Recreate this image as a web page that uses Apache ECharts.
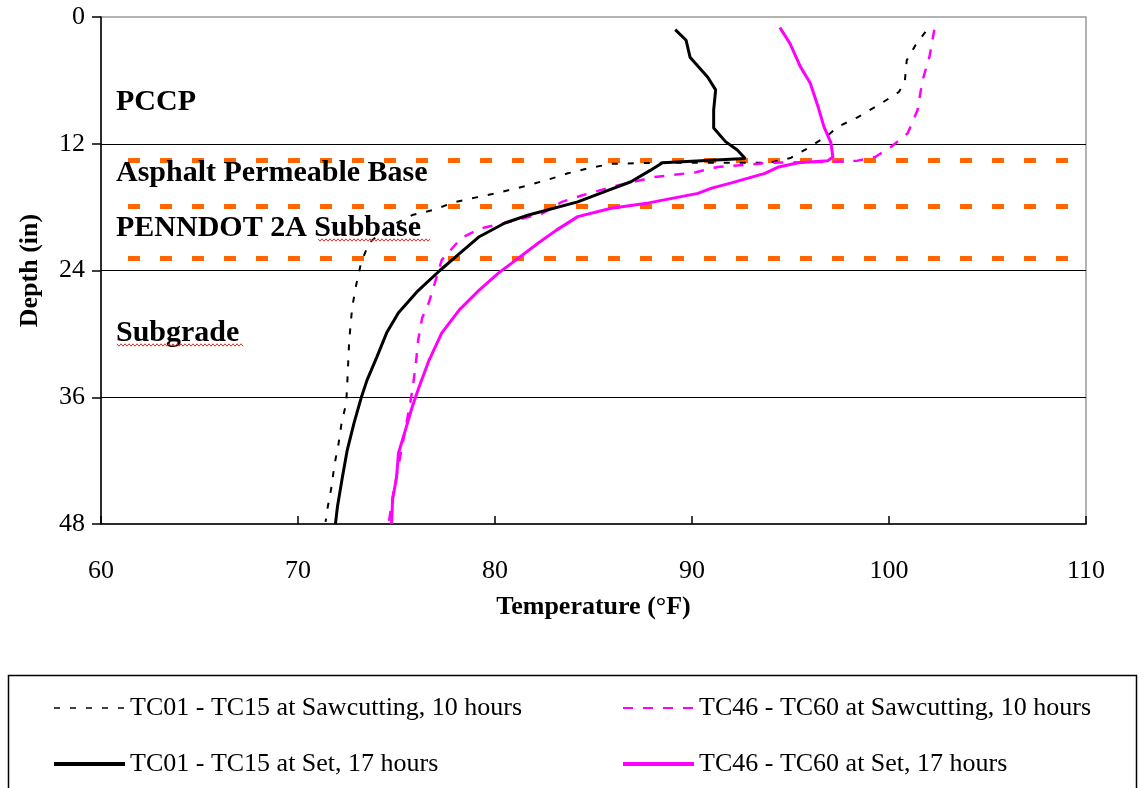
<!DOCTYPE html>
<html>
<head>
<meta charset="utf-8">
<script src="https://cdn.jsdelivr.net/npm/echarts@6/dist/echarts.min.js"></script>
<style>
html,body{margin:0;padding:0;background:#fff;}
#chart{width:1143px;height:788px;}
</style>
</head>
<body>
<div id="chart"></div>
<script>
// ---- data: [temperature (°F), depth (in)] ----
const sawTC01 = [[101.85,1.4],[101.35,2.65],[100.9,4.1],[100.8,6.15],[100.5,7.1],[99.5,8.3],[98.4,9.5],[97.4,10.4],[96.9,11.2],[95.9,12.4],[95.0,13.35],[93.9,13.8],[88.4,13.8],[85.9,13.9],[84.8,14.3],[83.7,14.8],[82.7,15.4],[81.35,16.1],[80.0,16.7],[79.0,17.1],[78.0,17.5],[76.8,18.3],[75.8,18.75],[74.5,20.0],[73.6,21.4],[73.2,23.3],[72.95,25.4],[72.75,27.5],[72.6,30.6],[72.5,34.7],[72.45,36.5],[72.2,38.6],[72.05,40.5],[71.85,42.4],[71.7,44.5],[71.5,46.5],[71.4,47.8]];
const setTC01 = [[89.15,1.2],[89.7,2.2],[89.9,3.8],[90.8,5.7],[91.2,6.9],[91.1,8.8],[91.1,10.5],[91.7,11.8],[92.3,12.6],[92.7,13.4],[88.5,13.8],[87.9,14.5],[86.9,15.6],[85.6,16.5],[84.2,17.5],[81.7,18.75],[80.5,19.5],[79.2,20.8],[78.0,22.7],[77.2,24.0],[76.1,25.9],[75.1,28.0],[74.5,29.9],[74.0,32.2],[73.5,34.4],[73.2,36.1],[72.85,38.4],[72.5,41.0],[72.25,43.6],[72.0,46.4],[71.9,48]];
const sawTC46 = [[102.3,1.2],[102.05,3.8],[101.7,6.0],[101.45,8.8],[100.95,11.0],[100.1,12.3],[99.3,13.25],[98.4,13.6],[97.4,13.7],[94.0,13.8],[91.3,14.2],[90.2,14.7],[88.1,15.15],[85.9,16.1],[84.4,16.9],[83.4,17.5],[82.4,18.6],[80.5,19.5],[79.3,20.0],[78.3,20.9],[77.3,23.0],[76.65,27.0],[76.3,28.5],[76.1,30.6],[76.0,32.5],[75.85,34.7],[75.7,36.5],[75.4,39.5],[75.1,42.5],[74.8,45.5],[74.6,48]];
const setTC46 = [[94.46,1.0],[94.97,2.5],[95.5,4.7],[96.0,6.25],[96.4,8.5],[96.7,10.4],[97.05,11.9],[97.15,13.25],[96.9,13.6],[95.4,13.8],[94.4,14.2],[93.7,14.8],[92.0,15.7],[91.0,16.2],[90.3,16.7],[87.8,17.6],[85.9,18.1],[84.2,18.9],[83.1,20.2],[82.2,21.4],[80.85,23.3],[80.2,24.2],[79.2,25.85],[78.2,27.7],[77.3,29.9],[76.65,32.5],[76.15,35.0],[75.8,36.9],[75.5,38.8],[75.1,41.3],[75.0,43.6],[74.8,45.7],[74.75,48]];

const seriesNames = ['TC01 - TC15 at Sawcutting, 10 hours','TC01 - TC15 at Set, 17 hours','TC46 - TC60 at Sawcutting, 10 hours','TC46 - TC60 at Set, 17 hours'];
const gridDepths = [12, 24, 36];
const layerDepths = [13.6, 17.9, 22.8];
const layerNotes = [['PCCP', 8.1], ['Asphalt Permeable Base', 14.8], ['PENNDOT 2A Subbase', 20.0], ['Subgrade', 29.9]];
const xTicks = {min: 60, max: 110, interval: 10};
const yTicks = {min: 0, max: 48, interval: 12};

const FONT = "'Liberation Serif','Times New Roman',serif";
const chart = echarts.init(document.getElementById('chart'), null, {renderer: 'canvas'});

function wavy(x0, x1, y) {
  const pts = [];
  let up = true;
  for (let x = x0; x <= x1; x += 2) { pts.push([x, up ? y - 1.2 : y + 1.2]); up = !up; }
  return pts;
}

const legendCommon = {orient: 'vertical', top: 690, itemWidth: 71, itemHeight: 12, itemGap: 30,
  itemStyle: {opacity: 0, borderWidth: 0},
  textStyle: {fontFamily: FONT, fontSize: 26, color: '#000'}};

const option = {
  backgroundColor: '#ffffff',
  animation: false,
  grid: {left: 101, right: 57, top: 17, bottom: 264, show: true, borderColor: '#9a9a9a', borderWidth: 1.5, backgroundColor: 'transparent'},
  xAxis: {
    type: 'value', min: xTicks.min, max: xTicks.max, interval: xTicks.interval,
    name: 'Temperature (°F)', nameLocation: 'middle', nameGap: 70,
    nameTextStyle: {fontFamily: FONT, fontSize: 26, fontWeight: 'bold', color: '#000'},
    axisLine: {show: true, onZero: false, lineStyle: {color: '#000', width: 1.5}},
    axisTick: {show: true, inside: true, length: 8, lineStyle: {color: '#000', width: 1.5}},
    axisLabel: {fontFamily: FONT, fontSize: 26, color: '#000', margin: 34},
    splitLine: {show: false}
  },
  yAxis: {
    type: 'value', inverse: true, min: yTicks.min, max: yTicks.max, interval: yTicks.interval,
    name: 'Depth (in)', nameLocation: 'middle', nameGap: 58, nameRotate: 90,
    nameTextStyle: {fontFamily: FONT, fontSize: 26, fontWeight: 'bold', color: '#000'},
    axisLine: {show: true, onZero: false, lineStyle: {color: '#000', width: 1.5}},
    axisTick: {show: true, inside: false, length: 9, lineStyle: {color: '#000', width: 1.5}},
    axisLabel: {fontFamily: FONT, fontSize: 26, color: '#000', margin: 16},
    splitLine: {show: false}
  },
  legend: [
    Object.assign({data: [
      {name: seriesNames[0], lineStyle: {width: 1.5}},
      {name: seriesNames[1], lineStyle: {width: 4}}], left: 47}, legendCommon),
    Object.assign({data: [
      {name: seriesNames[2], lineStyle: {width: 2}},
      {name: seriesNames[3], lineStyle: {width: 4}}], left: 616}, legendCommon)
  ],
  graphic: [
    {type: 'rect', shape: {x: 8.5, y: 675.5, width: 1128, height: 140}, style: {fill: 'none', stroke: '#000', lineWidth: 1.5}, z: 100},
    {type: 'polyline', shape: {points: wavy(318, 430, 240)}, style: {stroke: '#e03030', lineWidth: 1, fill: 'none'}, z: 100},
    {type: 'polyline', shape: {points: wavy(117, 243, 345)}, style: {stroke: '#e03030', lineWidth: 1, fill: 'none'}, z: 100}
  ],
  series: [
    {name: seriesNames[0], type: 'line', data: sawTC01, symbol: 'none', smooth: false,
     lineStyle: {color: '#000', width: 2, type: [6, 10]}, itemStyle: {color: '#000'}, z: 5},
    {name: seriesNames[1], type: 'line', data: setTC01, symbol: 'none',
     lineStyle: {color: '#000', width: 3}, itemStyle: {color: '#000'}, z: 6},
    {name: seriesNames[2], type: 'line', data: sawTC46, symbol: 'none',
     lineStyle: {color: '#ff00ff', width: 2.5, type: [10, 10]}, itemStyle: {color: '#ff00ff'}, z: 5},
    {name: seriesNames[3], type: 'line', data: setTC46, symbol: 'none',
     lineStyle: {color: '#ff00ff', width: 3}, itemStyle: {color: '#ff00ff'}, z: 6},
    {name: 'grid', type: 'line', data: [], symbol: 'none', silent: true, z: 2,
     markLine: {silent: true, symbol: 'none', label: {show: false},
       lineStyle: {color: '#000', width: 1.2, type: 'solid'},
       data: gridDepths.map(d => ({yAxis: d}))}},
    {name: 'layers', type: 'line', data: [], symbol: 'none', silent: true, z: 3,
     markLine: {silent: true, symbol: 'none', label: {show: false},
       lineStyle: {color: '#ff6600', width: 5, type: [12, 20]},
       data: layerDepths.map(d => [{coord: [61.37, d]}, {coord: [110, d]}])}},
    {name: 'notes', type: 'scatter', symbolSize: 0, silent: true, z: 10,
     itemStyle: {opacity: 1},
     data: layerNotes.map(n => ({name: n[0], value: [60.76, n[1]]})),
     label: {show: true, position: 'right', distance: 0, formatter: p => p.name,
       fontFamily: FONT, fontSize: 30, fontWeight: 'bold', color: '#000', opacity: 1}}
  ]
};
chart.setOption(option);
</script>
</body>
</html>
